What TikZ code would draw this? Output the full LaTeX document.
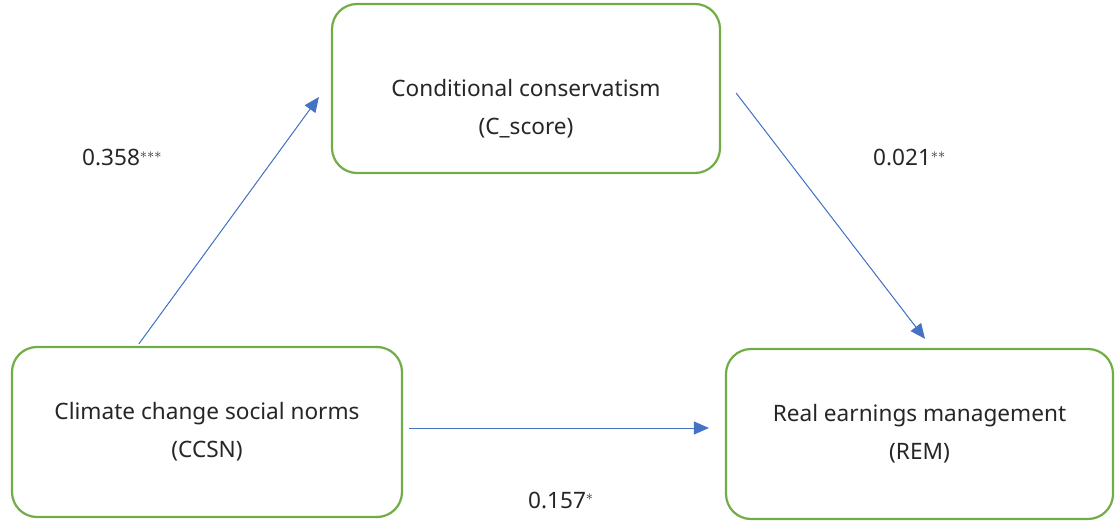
\documentclass[tikz,border=0pt]{standalone}
\usepackage{fontspec}
\setmainfont{Noto Sans}
\usetikzlibrary{arrows.meta,positioning,calc}
\definecolor{boxgreen}{HTML}{70AD47}
\definecolor{pathblue}{HTML}{4472C4}
\definecolor{txtgray}{HTML}{262626}
\tikzset{
varbox/.style={draw=boxgreen, line width=2.2pt, rounded corners=25pt, align=center, text=txtgray, font=\fontsize{22.6}{38}\selectfont, inner sep=0pt},
patharrow/.style={-{Triangle[length=15pt, width=13pt]}, draw=pathblue, fill=pathblue, line width=1pt},
coefnode/.style={text=txtgray, font=\fontsize{22.6}{26}\selectfont, inner sep=0pt}
}

\begin{document}
\begin{tikzpicture}[x=1pt, y=-1pt]
\useasboundingbox (0,0) rectangle (1115,521);
\node[varbox, minimum width=388pt, minimum height=169pt,
  label={[varbox, draw=none, yshift=-20pt]center:Conditional conservatism\\(C\_score)}] (cscore) at (526,88.5) {};
\node[varbox, minimum width=390pt, minimum height=170pt] (ccsn) at (207,432) {Climate change social norms\\(CCSN)};
\node[varbox, minimum width=387pt, minimum height=170pt] (rem) at (919.5,434) {Real earnings management\\(REM)};

\draw[patharrow] ($(ccsn.north west)+(128,-2)$) -- ($(cscore.west)+(-12,8.5)$);
\draw[patharrow] ($(cscore.east)+(15,4.5)$) -- ($(rem.north)+(5.5,-9)$);
\draw[patharrow] ($(ccsn.east)+(6,-4)$) -- ($(rem.west)+(-16,-6)$);

\node[coefnode, anchor=base west] (a) at (82,166) {0.358$^{***}$};
\node[coefnode, anchor=base west] (b) at (873,166) {0.021$^{**}$};
\node[coefnode, anchor=base west] (c) at (528,508) {0.157$^{*}$};
\end{tikzpicture}
\end{document}
